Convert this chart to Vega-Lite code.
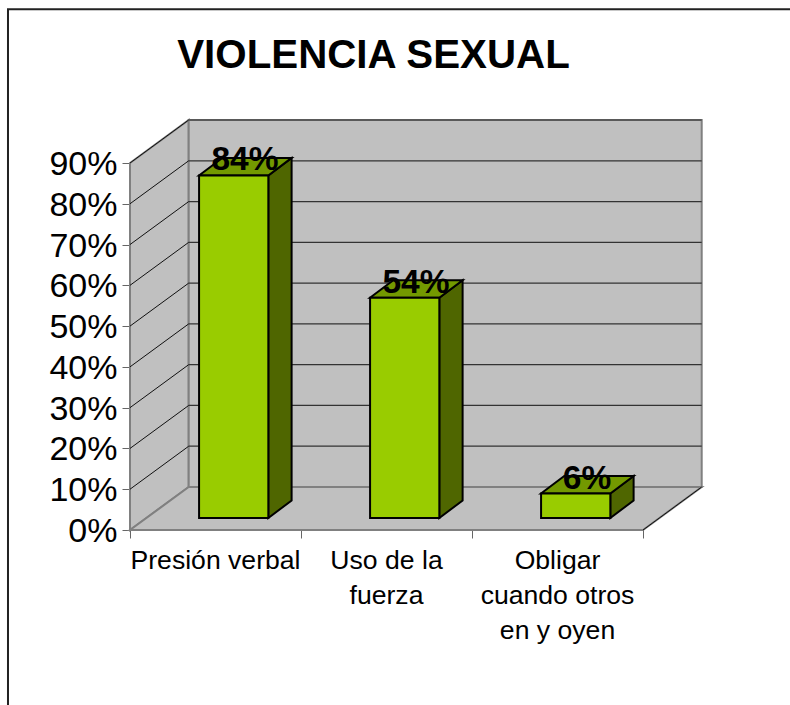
{
"$schema":"https://vega.github.io/schema/vega-lite/v6.json",
"autosize":{"type":"none"},
"padding":{"left":130,"top":163,"right":147,"bottom":175},
"width":513,"height":367,
"background":"white",
"config":{"view":{"stroke":null},"font":"Liberation Sans"},
"title":{"text":"VIOLENCIA SEXUAL","fontSize":40.3,"fontWeight":"bold","font":"Liberation Sans","color":"black","anchor":"middle","baseline":"alphabetic","dx":-13,"offset":-100},
"datasets":{
"bars":[
{"category":"Presión verbal","value":0.84,"slot":0},
{"category":"Uso de la fuerza","value":0.54,"slot":1},
{"category":"Obligar cuando otros en y oyen","value":0.06,"slot":2}],
"grid":[{"v":0.1},{"v":0.2},{"v":0.3},{"v":0.4},{"v":0.5},{"v":0.6},{"v":0.7},{"v":0.8},{"v":0.9}]
},
"layer":[
{"layer":[
{"data":{"values":[{"p":-0.7135,"top":1.277,"bottom":-0.6}]},
 "mark":{"type":"bar","fill":null,"stroke":"#222222","strokeWidth":2,"clip":false},
 "encoding":{"x":{"datum":-0.7135,"type":"quantitative","scale":{"domain":[0,3],"nice":false,"zero":false},"axis":{"values":[0,1,2,3],"labels":false,"title":null,"grid":false,"tickSize":8,"tickColor":"#666666","domainColor":"black","domainWidth":1},"title":null},"x2":{"datum":3.95},"y":{"datum":1.277,"type":"quantitative","scale":{"domain":[0,0.9],"nice":false,"zero":false},"axis":{"values":[0,0.1,0.2,0.3,0.4,0.5,0.6,0.7,0.8,0.9],"format":".0%","title":null,"grid":false,"labelFontSize":34,"labelColor":"black","labelPadding":5,"labelOffset":1.5,"tickSize":8,"tickColor":"#666666","domainColor":"#808080","domainWidth":2},"title":null},"y2":{"datum":-0.6}}},
{"data":{"values":[{"p":0,"lo":0,"hi":0.9},{"p":0.3433,"lo":0.1054,"hi":1.0054}]},
 "mark":{"type":"area","fill":"#C0C0C0","stroke":"#808080","strokeWidth":2,"clip":false},
 "encoding":{"x":{"field":"p","type":"quantitative"},"y":{"field":"hi","type":"quantitative"},"y2":{"field":"lo"}}},
{"data":{"values":[{"p":0.3433,"lo":0.1054,"hi":1.0054},{"p":3.3433,"lo":0.1054,"hi":1.0054}]},
 "mark":{"type":"area","fill":"#C0C0C0","stroke":"#808080","strokeWidth":2,"clip":false},
 "encoding":{"x":{"field":"p","type":"quantitative"},"y":{"field":"hi","type":"quantitative"},"y2":{"field":"lo"}}},
{"data":{"values":[{"p":0,"lo":0,"hi":0},{"p":0.3433,"lo":0,"hi":0.1054},{"p":3,"lo":0,"hi":0.1054},{"p":3.3433,"lo":0.1054,"hi":0.1054}]},
 "mark":{"type":"area","fill":"#C0C0C0","stroke":"#808080","strokeWidth":2,"clip":false},
 "encoding":{"x":{"field":"p","type":"quantitative"},"y":{"field":"hi","type":"quantitative"},"y2":{"field":"lo"}}},
{"data":{"name":"grid"},
 "mark":{"type":"rule","stroke":"#333333","strokeWidth":1.2,"xOffset":58.7,"x2Offset":58.7,"yOffset":-43,"y2Offset":-43,"clip":false},
 "encoding":{"x":{"datum":0,"type":"quantitative"},"x2":{"datum":3},"y":{"field":"v","type":"quantitative"},"y2":{"field":"v"}}},
{"data":{"name":"grid"},
 "mark":{"type":"rule","stroke":"#111111","strokeWidth":1,"x2Offset":58.7,"y2Offset":-43,"clip":false},
 "encoding":{"x":{"datum":0,"type":"quantitative"},"x2":{"datum":0},"y":{"field":"v","type":"quantitative"},"y2":{"field":"v"}}},
{"data":{"values":[{"v":0}]},
 "mark":{"type":"rule","stroke":"#111111","strokeWidth":1,"x2Offset":58.7,"y2Offset":-43,"clip":false},
 "encoding":{"x":{"datum":3,"type":"quantitative"},"x2":{"datum":3},"y":{"field":"v","type":"quantitative"},"y2":{"field":"v"}}},
{"data":{"name":"bars"},
 "transform":[{"calculate":"[0,1]","as":"t"},{"flatten":["t"]},
 {"calculate":"datum.slot+0.8088+0.1363*datum.t","as":"px"},
 {"calculate":"0.0294+0.0431*datum.t","as":"lo"},
 {"calculate":"datum.value+datum.lo","as":"hi"}],
 "mark":{"type":"area","fill":"#4F6600","stroke":"black","strokeWidth":2,"clip":false},
 "encoding":{"x":{"field":"px","type":"quantitative"},"y":{"field":"hi","type":"quantitative"},"y2":{"field":"lo"},"detail":{"field":"category"}}},
{"data":{"name":"bars"},
 "transform":[{"calculate":"[0,1,2,3]","as":"t"},{"flatten":["t"]},
 {"calculate":"datum.slot+0.4035+[0,0.1363,0.4053,0.5416][datum.t]","as":"px"},
 {"calculate":"datum.value+0.0294+[0,0,0,0.0431][datum.t]","as":"lo"},
 {"calculate":"datum.value+0.0294+[0,0.0431,0.0431,0.0431][datum.t]","as":"hi"}],
 "mark":{"type":"area","fill":"#739900","stroke":"black","strokeWidth":2,"clip":false},
 "encoding":{"x":{"field":"px","type":"quantitative"},"y":{"field":"hi","type":"quantitative"},"y2":{"field":"lo"},"detail":{"field":"category"}}}
]},
{"data":{"name":"bars"},
 "mark":{"type":"bar","fill":"#99CC00","stroke":"black","strokeWidth":2,"xOffset":18.2,"x2Offset":18.2,"yOffset":-12,"y2Offset":-12,"clip":false},
 "encoding":{"x":{"field":"category","type":"nominal","sort":null,"scale":{"paddingInner":0.595,"paddingOuter":0.2975},
 "axis":{"orient":"bottom","title":null,"domain":false,"ticks":false,"labelAngle":0,"labelFontSize":26.6,"labelColor":"black","labelLimit":0,"labelPadding":17,"labelLineHeight":35,"labelExpr":"datum.label=='Uso de la fuerza'?['Uso de la','fuerza']:datum.label=='Obligar cuando otros en y oyen'?['Obligar','cuando otros','en y oyen']:datum.label"}},
 "y":{"field":"value","type":"quantitative"},"y2":{"datum":0}}},
{"data":{"name":"bars"},
 "transform":[{"calculate":"datum.slot+0.6725","as":"mid"}],
 "mark":{"type":"text","fontSize":33.5,"fontWeight":"bold","color":"black","align":"center","baseline":"alphabetic","yOffset":-17,"clip":false},
 "encoding":{"x":{"field":"mid","type":"quantitative","scale":{"domain":[0,3],"nice":false,"zero":false},"axis":null},"y":{"field":"value","type":"quantitative"},"text":{"field":"value","type":"quantitative","format":".0%"}}}
],
"resolve":{"scale":{"x":"independent"}}
}
